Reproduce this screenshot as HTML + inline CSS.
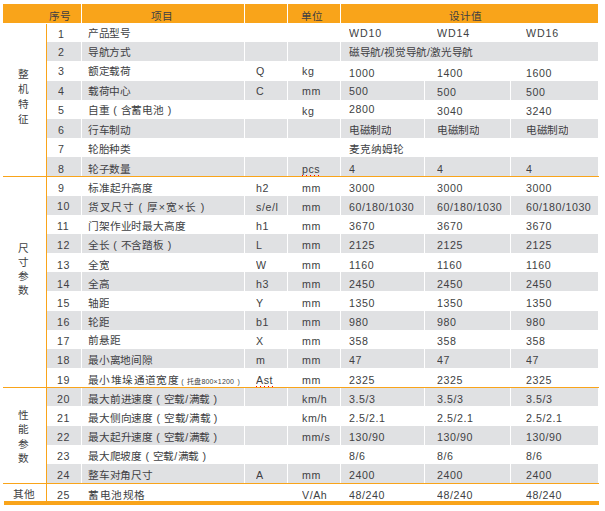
<!DOCTYPE html>
<html lang="zh-CN"><head><meta charset="utf-8"><title>WD10 / WD14 / WD16 参数表</title>
<style>
html,body{margin:0;padding:0;background:#fff;}
body{width:605px;height:511px;position:relative;overflow:hidden;font-family:"Liberation Sans",sans-serif;font-size:10.67px;color:#403f43;}
.a{position:absolute;white-space:nowrap;box-sizing:border-box;}
.h{background:#f9a41a;top:4px;height:19px;}
.g{background:#e0e1e3;}
.o{background:#f9a41a;}
.t{font-size:21.34px;transform:scale(.5);transform-origin:0 0;}
.sm{font-size:14px;letter-spacing:.3px;word-spacing:2.6px;margin-left:-2.6px;}
.l{letter-spacing:1.1px;}
</style></head><body>
<div class="a h" style="left:3px;width:78px;"></div>
<div class="a h" style="left:82px;width:162px;"></div>
<div class="a h" style="left:245px;width:42px;"></div>
<div class="a h" style="left:288px;width:52px;"></div>
<div class="a h" style="left:341px;width:257px;"></div>
<div class="a t" style="left:49px;top:6.5px;line-height:38px;letter-spacing:1px;">序号</div>
<div class="a t" style="left:151px;top:6.5px;line-height:38px;letter-spacing:1px;">项目</div>
<div class="a t" style="left:301px;top:6.5px;line-height:38px;letter-spacing:1px;">单位</div>
<div class="a t" style="left:449px;top:6.5px;line-height:38px;letter-spacing:1px;">设计值</div>
<div class="a t l" style="left:58px;top:24.7px;line-height:38px;">1</div>
<div class="a t" style="left:87.5px;top:24px;line-height:38px;letter-spacing:0.3px;">产品型号</div>
<div class="a t l" style="left:349px;top:24px;line-height:38px;letter-spacing:1.7px;">WD10</div>
<div class="a t l" style="left:437px;top:24px;line-height:38px;letter-spacing:1.7px;">WD14</div>
<div class="a t l" style="left:526px;top:24px;line-height:38px;letter-spacing:1.7px;">WD16</div>
<div class="a g" style="left:47px;top:42px;width:34px;height:19px;"></div>
<div class="a t l" style="left:58px;top:43px;line-height:38px;">2</div>
<div class="a g" style="left:82px;top:42px;width:162px;height:19px;"></div>
<div class="a t" style="left:87.5px;top:43px;line-height:38px;letter-spacing:0.3px;">导航方式</div>
<div class="a g" style="left:245px;top:42px;width:42px;height:19px;"></div>
<div class="a g" style="left:288px;top:42px;width:52px;height:19px;"></div>
<div class="a g" style="left:341px;top:42px;width:257px;height:19px;"></div>
<div class="a t" style="left:349px;top:43px;line-height:38px;letter-spacing:.4px;">磁导航/视觉导航/激光导航</div>
<div class="a t l" style="left:58px;top:61px;line-height:40px;">3</div>
<div class="a t" style="left:87.5px;top:61px;line-height:40px;letter-spacing:0.3px;">额定载荷</div>
<div class="a t l" style="left:256px;top:61px;line-height:40px;">Q</div>
<div class="a t l" style="left:302px;top:61px;line-height:40px;">kg</div>
<div class="a t l" style="left:349px;top:63px;line-height:40px;">1000</div>
<div class="a t l" style="left:437px;top:63px;line-height:40px;">1400</div>
<div class="a t l" style="left:526px;top:63px;line-height:40px;">1600</div>
<div class="a g" style="left:47px;top:81px;width:34px;height:19px;"></div>
<div class="a t l" style="left:58px;top:82px;line-height:38px;">4</div>
<div class="a g" style="left:82px;top:81px;width:162px;height:19px;"></div>
<div class="a t" style="left:87.5px;top:82px;line-height:38px;letter-spacing:0.3px;">载荷中心</div>
<div class="a g" style="left:245px;top:81px;width:42px;height:19px;"></div>
<div class="a t l" style="left:256px;top:82px;line-height:38px;">C</div>
<div class="a g" style="left:288px;top:81px;width:52px;height:19px;"></div>
<div class="a t l" style="left:302px;top:82px;line-height:38px;">mm</div>
<div class="a g" style="left:341px;top:81px;width:83px;height:19px;"></div>
<div class="a t l" style="left:349px;top:82px;line-height:38px;">500</div>
<div class="a g" style="left:425px;top:81px;width:85px;height:19px;"></div>
<div class="a t l" style="left:437px;top:83px;line-height:38px;">500</div>
<div class="a g" style="left:511px;top:81px;width:87px;height:19px;"></div>
<div class="a t l" style="left:526px;top:83px;line-height:38px;">500</div>
<div class="a t l" style="left:58px;top:101px;line-height:38px;">5</div>
<div class="a t" style="left:87.5px;top:101.4px;line-height:38px;letter-spacing:0.84px;">自重 ( 含蓄电池 )</div>
<div class="a t l" style="left:302px;top:102px;line-height:38px;">kg</div>
<div class="a t l" style="left:349px;top:100px;line-height:38px;">2800</div>
<div class="a t l" style="left:437px;top:102px;line-height:38px;">3040</div>
<div class="a t l" style="left:526px;top:102px;line-height:38px;">3240</div>
<div class="a g" style="left:47px;top:119px;width:34px;height:19px;"></div>
<div class="a t l" style="left:58px;top:120.6px;line-height:38px;">6</div>
<div class="a g" style="left:82px;top:119px;width:162px;height:19px;"></div>
<div class="a t" style="left:87.5px;top:121px;line-height:38px;letter-spacing:0.3px;">行车制动</div>
<div class="a g" style="left:245px;top:119px;width:42px;height:19px;"></div>
<div class="a g" style="left:288px;top:119px;width:52px;height:19px;"></div>
<div class="a g" style="left:341px;top:119px;width:83px;height:19px;"></div>
<div class="a t" style="left:349px;top:121px;line-height:38px;">电磁制动</div>
<div class="a g" style="left:425px;top:119px;width:85px;height:19px;"></div>
<div class="a t" style="left:437px;top:121px;line-height:38px;">电磁制动</div>
<div class="a g" style="left:511px;top:119px;width:87px;height:19px;"></div>
<div class="a t" style="left:526px;top:121px;line-height:38px;">电磁制动</div>
<div class="a t l" style="left:58px;top:139.6px;line-height:38px;">7</div>
<div class="a t" style="left:87.5px;top:140px;line-height:38px;letter-spacing:0.3px;">轮胎种类</div>
<div class="a t" style="left:349px;top:140px;line-height:38px;letter-spacing:.8px;">麦克纳姆轮</div>
<div class="a g" style="left:47px;top:157px;width:34px;height:19px;"></div>
<div class="a t l" style="left:58px;top:159.6px;line-height:38px;">8</div>
<div class="a g" style="left:82px;top:157px;width:162px;height:19px;"></div>
<div class="a t" style="left:87.5px;top:160px;line-height:38px;letter-spacing:0.3px;">轮子数量</div>
<div class="a g" style="left:245px;top:157px;width:42px;height:19px;"></div>
<div class="a g" style="left:288px;top:157px;width:52px;height:19px;"></div>
<div class="a t l" style="left:302px;top:160px;line-height:38px;">pcs</div>
<div class="a g" style="left:341px;top:157px;width:83px;height:19px;"></div>
<div class="a t l" style="left:349px;top:160px;line-height:38px;">4</div>
<div class="a g" style="left:425px;top:157px;width:85px;height:19px;"></div>
<div class="a t l" style="left:437px;top:160px;line-height:38px;">4</div>
<div class="a g" style="left:511px;top:157px;width:87px;height:19px;"></div>
<div class="a t l" style="left:526px;top:160px;line-height:38px;">4</div>
<div class="a t l" style="left:58px;top:179px;line-height:38px;">9</div>
<div class="a t" style="left:87.5px;top:179px;line-height:38px;letter-spacing:0.7px;">标准起升高度</div>
<div class="a t l" style="left:256px;top:179px;line-height:38px;">h2</div>
<div class="a t l" style="left:302px;top:179px;line-height:38px;">mm</div>
<div class="a t l" style="left:349px;top:179px;line-height:38px;">3000</div>
<div class="a t l" style="left:437px;top:179px;line-height:38px;">3000</div>
<div class="a t l" style="left:526px;top:179px;line-height:38px;">3000</div>
<div class="a g" style="left:47px;top:196px;width:34px;height:19px;"></div>
<div class="a t l" style="left:56.9px;top:197.4px;line-height:38px;">10</div>
<div class="a g" style="left:82px;top:196px;width:162px;height:19px;"></div>
<div class="a t" style="left:87.5px;top:198px;line-height:38px;letter-spacing:2.2px;">货叉尺寸 ( 厚×宽×长 )</div>
<div class="a g" style="left:245px;top:196px;width:42px;height:19px;"></div>
<div class="a t l" style="left:256px;top:198px;line-height:38px;">s/e/l</div>
<div class="a g" style="left:288px;top:196px;width:52px;height:19px;"></div>
<div class="a t l" style="left:302px;top:198px;line-height:38px;">mm</div>
<div class="a g" style="left:341px;top:196px;width:83px;height:19px;"></div>
<div class="a t l" style="left:349px;top:198px;line-height:38px;">60/180/1030</div>
<div class="a g" style="left:425px;top:196px;width:85px;height:19px;"></div>
<div class="a t l" style="left:437px;top:198px;line-height:38px;">60/180/1030</div>
<div class="a g" style="left:511px;top:196px;width:87px;height:19px;"></div>
<div class="a t l" style="left:526px;top:198px;line-height:38px;">60/180/1030</div>
<div class="a t l" style="left:56.9px;top:216.6px;line-height:38px;">11</div>
<div class="a t" style="left:87.5px;top:217px;line-height:38px;letter-spacing:0.74px;">门架作业时最大高度</div>
<div class="a t l" style="left:256px;top:217px;line-height:38px;">h1</div>
<div class="a t l" style="left:302px;top:217px;line-height:38px;">mm</div>
<div class="a t l" style="left:349px;top:217px;line-height:38px;">3670</div>
<div class="a t l" style="left:437px;top:217px;line-height:38px;">3670</div>
<div class="a t l" style="left:526px;top:217px;line-height:38px;">3670</div>
<div class="a g" style="left:47px;top:234px;width:34px;height:19px;"></div>
<div class="a t l" style="left:56.9px;top:236px;line-height:38px;">12</div>
<div class="a g" style="left:82px;top:234px;width:162px;height:19px;"></div>
<div class="a t" style="left:87.5px;top:236px;line-height:38px;letter-spacing:0.84px;">全长 ( 不含踏板 )</div>
<div class="a g" style="left:245px;top:234px;width:42px;height:19px;"></div>
<div class="a t l" style="left:256px;top:236px;line-height:38px;">L</div>
<div class="a g" style="left:288px;top:234px;width:52px;height:19px;"></div>
<div class="a t l" style="left:302px;top:236px;line-height:38px;">mm</div>
<div class="a g" style="left:341px;top:234px;width:83px;height:19px;"></div>
<div class="a t l" style="left:349px;top:236px;line-height:38px;">2125</div>
<div class="a g" style="left:425px;top:234px;width:85px;height:19px;"></div>
<div class="a t l" style="left:437px;top:236px;line-height:38px;">2125</div>
<div class="a g" style="left:511px;top:234px;width:87px;height:19px;"></div>
<div class="a t l" style="left:526px;top:236px;line-height:38px;">2125</div>
<div class="a t l" style="left:56.9px;top:256px;line-height:38px;">13</div>
<div class="a t" style="left:87.5px;top:256px;line-height:38px;">全宽</div>
<div class="a t l" style="left:256px;top:256px;line-height:38px;">W</div>
<div class="a t l" style="left:302px;top:256px;line-height:38px;">mm</div>
<div class="a t l" style="left:349px;top:256px;line-height:38px;">1160</div>
<div class="a t l" style="left:437px;top:256px;line-height:38px;">1160</div>
<div class="a t l" style="left:526px;top:256px;line-height:38px;">1160</div>
<div class="a g" style="left:47px;top:272px;width:34px;height:19px;"></div>
<div class="a t l" style="left:56.9px;top:275px;line-height:38px;">14</div>
<div class="a g" style="left:82px;top:272px;width:162px;height:19px;"></div>
<div class="a t" style="left:87.5px;top:275px;line-height:38px;">全高</div>
<div class="a g" style="left:245px;top:272px;width:42px;height:19px;"></div>
<div class="a t l" style="left:256px;top:275px;line-height:38px;">h3</div>
<div class="a g" style="left:288px;top:272px;width:52px;height:19px;"></div>
<div class="a t l" style="left:302px;top:275px;line-height:38px;">mm</div>
<div class="a g" style="left:341px;top:272px;width:83px;height:19px;"></div>
<div class="a t l" style="left:349px;top:275px;line-height:38px;">2450</div>
<div class="a g" style="left:425px;top:272px;width:85px;height:19px;"></div>
<div class="a t l" style="left:437px;top:275px;line-height:38px;">2450</div>
<div class="a g" style="left:511px;top:272px;width:87px;height:19px;"></div>
<div class="a t l" style="left:526px;top:275px;line-height:38px;">2450</div>
<div class="a t l" style="left:56.9px;top:293px;line-height:40px;">15</div>
<div class="a t" style="left:87.5px;top:293px;line-height:40px;">轴距</div>
<div class="a t l" style="left:256px;top:293px;line-height:40px;">Y</div>
<div class="a t l" style="left:302px;top:293px;line-height:40px;">mm</div>
<div class="a t l" style="left:349px;top:293px;line-height:40px;">1350</div>
<div class="a t l" style="left:437px;top:293px;line-height:40px;">1350</div>
<div class="a t l" style="left:526px;top:293px;line-height:40px;">1350</div>
<div class="a g" style="left:47px;top:311px;width:34px;height:19px;"></div>
<div class="a t l" style="left:56.9px;top:313px;line-height:38px;">16</div>
<div class="a g" style="left:82px;top:311px;width:162px;height:19px;"></div>
<div class="a t" style="left:87.5px;top:313px;line-height:38px;">轮距</div>
<div class="a g" style="left:245px;top:311px;width:42px;height:19px;"></div>
<div class="a t l" style="left:256px;top:313px;line-height:38px;">b1</div>
<div class="a g" style="left:288px;top:311px;width:52px;height:19px;"></div>
<div class="a t l" style="left:302px;top:313px;line-height:38px;">mm</div>
<div class="a g" style="left:341px;top:311px;width:83px;height:19px;"></div>
<div class="a t l" style="left:349px;top:313px;line-height:38px;">980</div>
<div class="a g" style="left:425px;top:311px;width:85px;height:19px;"></div>
<div class="a t l" style="left:437px;top:313px;line-height:38px;">980</div>
<div class="a g" style="left:511px;top:311px;width:87px;height:19px;"></div>
<div class="a t l" style="left:526px;top:313px;line-height:38px;">980</div>
<div class="a t l" style="left:56.9px;top:332px;line-height:38px;">17</div>
<div class="a t" style="left:87.5px;top:331.4px;line-height:38px;letter-spacing:0.8px;">前悬距</div>
<div class="a t l" style="left:256px;top:332px;line-height:38px;">X</div>
<div class="a t l" style="left:302px;top:332px;line-height:38px;">mm</div>
<div class="a t l" style="left:349px;top:332px;line-height:38px;">358</div>
<div class="a t l" style="left:437px;top:332px;line-height:38px;">358</div>
<div class="a t l" style="left:526px;top:332px;line-height:38px;">358</div>
<div class="a g" style="left:47px;top:349px;width:34px;height:19px;"></div>
<div class="a t l" style="left:56.9px;top:351px;line-height:38px;">18</div>
<div class="a g" style="left:82px;top:349px;width:162px;height:19px;"></div>
<div class="a t" style="left:87.5px;top:351px;line-height:38px;letter-spacing:0.6px;">最小离地间隙</div>
<div class="a g" style="left:245px;top:349px;width:42px;height:19px;"></div>
<div class="a t l" style="left:256px;top:351px;line-height:38px;">m</div>
<div class="a g" style="left:288px;top:349px;width:52px;height:19px;"></div>
<div class="a t l" style="left:302px;top:351px;line-height:38px;">mm</div>
<div class="a g" style="left:341px;top:349px;width:83px;height:19px;"></div>
<div class="a t l" style="left:349px;top:351px;line-height:38px;">47</div>
<div class="a g" style="left:425px;top:349px;width:85px;height:19px;"></div>
<div class="a t l" style="left:437px;top:351px;line-height:38px;">47</div>
<div class="a g" style="left:511px;top:349px;width:87px;height:19px;"></div>
<div class="a t l" style="left:526px;top:351px;line-height:38px;">47</div>
<div class="a t l" style="left:56.9px;top:371px;line-height:38px;">19</div>
<div class="a t" style="left:87.5px;top:371px;line-height:38px;letter-spacing:1.8px;">最小堆垛通道宽度<span class="sm"> ( 托盘800×1200 )</span></div>
<div class="a t l" style="left:256px;top:371px;line-height:38px;">Ast</div>
<div class="a t l" style="left:302px;top:371px;line-height:38px;">mm</div>
<div class="a t l" style="left:349px;top:371px;line-height:38px;">2325</div>
<div class="a t l" style="left:437px;top:371px;line-height:38px;">2325</div>
<div class="a t l" style="left:526px;top:371px;line-height:38px;">2325</div>
<div class="a g" style="left:47px;top:388px;width:34px;height:18px;"></div>
<div class="a t l" style="left:56.9px;top:390px;line-height:36px;">20</div>
<div class="a g" style="left:82px;top:388px;width:162px;height:18px;"></div>
<div class="a t" style="left:87.5px;top:390px;line-height:36px;letter-spacing:0.68px;">最大前进速度 ( 空载/满载 )</div>
<div class="a g" style="left:245px;top:388px;width:42px;height:18px;"></div>
<div class="a g" style="left:288px;top:388px;width:52px;height:18px;"></div>
<div class="a t l" style="left:302px;top:390px;line-height:36px;">km/h</div>
<div class="a g" style="left:341px;top:388px;width:83px;height:18px;"></div>
<div class="a t l" style="left:349px;top:390px;line-height:36px;">3.5/3</div>
<div class="a g" style="left:425px;top:388px;width:85px;height:18px;"></div>
<div class="a t l" style="left:437px;top:390px;line-height:36px;">3.5/3</div>
<div class="a g" style="left:511px;top:388px;width:87px;height:18px;"></div>
<div class="a t l" style="left:526px;top:390px;line-height:36px;">3.5/3</div>
<div class="a t l" style="left:56.9px;top:408px;line-height:40px;">21</div>
<div class="a t" style="left:87.5px;top:408px;line-height:40px;letter-spacing:0.72px;">最大侧向速度 ( 空载/满载 )</div>
<div class="a t l" style="left:302px;top:408px;line-height:40px;">km/h</div>
<div class="a t l" style="left:349px;top:408px;line-height:40px;">2.5/2.1</div>
<div class="a t l" style="left:437px;top:408px;line-height:40px;">2.5/2.1</div>
<div class="a t l" style="left:526px;top:408px;line-height:40px;">2.5/2.1</div>
<div class="a g" style="left:47px;top:426px;width:34px;height:19px;"></div>
<div class="a t l" style="left:56.9px;top:428px;line-height:38px;">22</div>
<div class="a g" style="left:82px;top:426px;width:162px;height:19px;"></div>
<div class="a t" style="left:87.5px;top:428px;line-height:38px;letter-spacing:0.68px;">最大起升速度 ( 空载/满载 )</div>
<div class="a g" style="left:245px;top:426px;width:42px;height:19px;"></div>
<div class="a g" style="left:288px;top:426px;width:52px;height:19px;"></div>
<div class="a t l" style="left:302px;top:428px;line-height:38px;">mm/s</div>
<div class="a g" style="left:341px;top:426px;width:83px;height:19px;"></div>
<div class="a t l" style="left:349px;top:428px;line-height:38px;">130/90</div>
<div class="a g" style="left:425px;top:426px;width:85px;height:19px;"></div>
<div class="a t l" style="left:437px;top:428px;line-height:38px;">130/90</div>
<div class="a g" style="left:511px;top:426px;width:87px;height:19px;"></div>
<div class="a t l" style="left:526px;top:428px;line-height:38px;">130/90</div>
<div class="a t l" style="left:56.9px;top:447px;line-height:38px;">23</div>
<div class="a t" style="left:87.5px;top:447px;line-height:38px;letter-spacing:0.66px;">最大爬坡度 ( 空载/满载 )</div>
<div class="a t l" style="left:349px;top:447px;line-height:38px;">8/6</div>
<div class="a t l" style="left:437px;top:447px;line-height:38px;">8/6</div>
<div class="a t l" style="left:526px;top:447px;line-height:38px;">8/6</div>
<div class="a g" style="left:47px;top:464px;width:34px;height:19px;"></div>
<div class="a t l" style="left:56.9px;top:466px;line-height:38px;">24</div>
<div class="a g" style="left:82px;top:464px;width:162px;height:19px;"></div>
<div class="a t" style="left:87.5px;top:466px;line-height:38px;letter-spacing:0.6px;">整车对角尺寸</div>
<div class="a g" style="left:245px;top:464px;width:42px;height:19px;"></div>
<div class="a t l" style="left:256px;top:466px;line-height:38px;">A</div>
<div class="a g" style="left:288px;top:464px;width:52px;height:19px;"></div>
<div class="a t l" style="left:302px;top:466px;line-height:38px;">mm</div>
<div class="a g" style="left:341px;top:464px;width:83px;height:19px;"></div>
<div class="a t l" style="left:349px;top:466px;line-height:38px;">2400</div>
<div class="a g" style="left:425px;top:464px;width:85px;height:19px;"></div>
<div class="a t l" style="left:437px;top:466px;line-height:38px;">2400</div>
<div class="a g" style="left:511px;top:464px;width:87px;height:19px;"></div>
<div class="a t l" style="left:526px;top:466px;line-height:38px;">2400</div>
<div class="a t l" style="left:56.9px;top:487px;line-height:34px;">25</div>
<div class="a t" style="left:87.5px;top:487px;line-height:34px;letter-spacing:2px;">蓄电池规格</div>
<div class="a t l" style="left:302px;top:487px;line-height:34px;">V/Ah</div>
<div class="a t l" style="left:349px;top:487px;line-height:34px;">48/240</div>
<div class="a t l" style="left:437px;top:487px;line-height:34px;">48/240</div>
<div class="a t l" style="left:526px;top:487px;line-height:34px;">48/240</div>
<div class="a t" style="left:18px;top:66.3px;line-height:32px;">整</div>
<div class="a t" style="left:18px;top:81px;line-height:32px;">机</div>
<div class="a t" style="left:18px;top:95.8px;line-height:32px;">特</div>
<div class="a t" style="left:18px;top:110.7px;line-height:32px;">征</div>
<div class="a t" style="left:18px;top:239.8px;line-height:32px;">尺</div>
<div class="a t" style="left:18px;top:254.2px;line-height:32px;">寸</div>
<div class="a t" style="left:18px;top:268.2px;line-height:32px;">参</div>
<div class="a t" style="left:18px;top:282.3px;line-height:32px;">数</div>
<div class="a t" style="left:18px;top:407.3px;line-height:32px;">性</div>
<div class="a t" style="left:18px;top:421.2px;line-height:32px;">能</div>
<div class="a t" style="left:18px;top:435.6px;line-height:32px;">参</div>
<div class="a t" style="left:18px;top:450.4px;line-height:32px;">数</div>
<div class="a t" style="left:13px;top:486px;line-height:34px;letter-spacing:.8px;">其他</div>
<div class="a o" style="left:46px;top:24px;width:1px;height:477px;"></div>
<div class="a o" style="left:3px;top:176px;width:596px;height:1px;"></div>
<div class="a o" style="left:3px;top:387px;width:596px;height:1px;"></div>
<div class="a o" style="left:3px;top:483px;width:596px;height:1px;"></div>
<div class="a o" style="left:4px;top:501px;width:595px;height:4px;"></div>
<div class="a" style="left:302px;top:175px;width:17px;height:1px;background:repeating-linear-gradient(to right,#f00 0,#f00 1px,transparent 1px,transparent 4px);"></div>
<div class="a" style="left:256px;top:386px;width:17px;height:1px;background:repeating-linear-gradient(to right,#f00 0,#f00 1px,transparent 1px,transparent 4px);"></div>
</body></html>
